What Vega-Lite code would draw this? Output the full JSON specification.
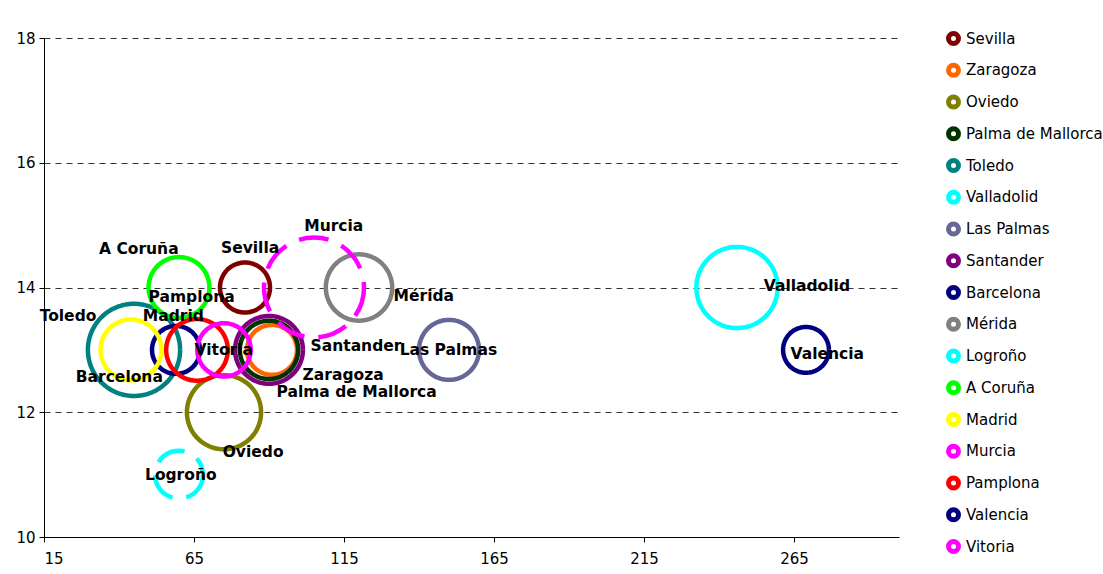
{
  "$schema": "https://vega.github.io/schema/vega-lite/v6.json",
  "width": 855,
  "height": 499,
  "autosize": {"type": "none"},
  "padding": {"left": 44, "top": 38, "right": 204, "bottom": 37},
  "background": "white",
  "config": {"view": {"stroke": null}, "font": "DejaVu Sans"},
  "data": {
    "values": [
      {"city": "Sevilla", "x": 82, "y": 14, "size": 25, "labelX": 83.7, "labelY": 14.64},
      {"city": "Zaragoza", "x": 91, "y": 13, "size": 25, "labelX": 114.7, "labelY": 12.6},
      {"city": "Oviedo", "x": 75, "y": 12, "size": 55, "labelX": 84.7, "labelY": 11.37},
      {"city": "Palma de Mallorca", "x": 90, "y": 13, "size": 34, "labelX": 119.2, "labelY": 12.32},
      {"city": "Toledo", "x": 45, "y": 13, "size": 85, "labelX": 23, "labelY": 13.54},
      {"city": "Valladolid", "x": 246, "y": 14, "size": 66, "labelX": 269.3, "labelY": 14.03},
      {"city": "Las Palmas", "x": 150, "y": 13, "size": 36, "labelX": 149.8, "labelY": 13.0},
      {"city": "Santander", "x": 90, "y": 13, "size": 46, "labelX": 119, "labelY": 13.06},
      {"city": "Barcelona", "x": 59, "y": 13, "size": 23, "labelX": 40.1, "labelY": 12.56},
      {"city": "Mérida", "x": 120, "y": 14, "size": 44, "labelX": 141.6, "labelY": 13.86},
      {"city": "Logroño", "x": 60, "y": 11, "size": 23, "labelX": 60.6, "labelY": 11.0},
      {"city": "A Coruña", "x": 60, "y": 14, "size": 37, "labelX": 46.6, "labelY": 14.62},
      {"city": "Madrid", "x": 44, "y": 13, "size": 37, "labelX": 58.1, "labelY": 13.54},
      {"city": "Murcia", "x": 105, "y": 14, "size": 100, "labelX": 111.6, "labelY": 14.99},
      {"city": "Pamplona", "x": 66, "y": 13, "size": 38, "labelX": 64.2, "labelY": 13.85},
      {"city": "Valencia", "x": 269, "y": 13, "size": 21, "labelX": 276.1, "labelY": 12.93},
      {"city": "Vitoria", "x": 75, "y": 13, "size": 28.5, "labelX": 74.9, "labelY": 13.0}
    ]
  },
  "layer": [
    {
      "mark": {"type": "point", "shape": "circle", "filled": false, "strokeWidth": 4.5, "opacity": 1},
      "encoding": {
        "x": {
          "field": "x", "type": "quantitative",
          "scale": {"domain": [15, 300], "nice": false, "zero": false},
          "axis": {
            "title": null, "values": [15, 65, 115, 165, 215, 265], "grid": false, "format": "d",
            "domainColor": "#000000", "tickColor": "#000000", "tickSize": 5,
            "labelColor": "#000000", "labelFontSize": 15, "labelFont": "DejaVu Sans", "labelPadding": 9
          }
        },
        "y": {
          "field": "y", "type": "quantitative",
          "scale": {"domain": [10, 18], "nice": false, "zero": false},
          "axis": {
            "title": null, "values": [10, 12, 14, 16, 18], "grid": true, "format": "d",
            "gridDash": [6, 5], "gridColor": "#333333", "gridWidth": 1,
            "domainColor": "#000000", "tickColor": "#000000", "tickSize": 5,
            "labelColor": "#000000", "labelFontSize": 15, "labelFont": "DejaVu Sans", "labelPadding": 4
          }
        },
        "size": {
          "field": "size", "type": "quantitative",
          "scale": {"type": "linear", "domain": [0, 100], "range": [0, 10000]},
          "legend": null
        },
        "color": {
          "field": "city", "type": "nominal",
          "scale": {
            "domain": ["Sevilla", "Zaragoza", "Oviedo", "Palma de Mallorca", "Toledo", "Valladolid", "Las Palmas", "Santander", "Barcelona", "Mérida", "Logroño", "A Coruña", "Madrid", "Murcia", "Pamplona", "Valencia", "Vitoria"],
            "range": ["#800000", "#FF6600", "#808000", "#003300", "#008080", "#00FFFF", "#666699", "#800080", "#000080", "#808080", "#00FFFF", "#00FF00", "#FFFF00", "#FF00FF", "#FF0000", "#000080", "#FF00FF"]
          },
          "legend": {
            "title": null, "orient": "none", "legendX": 902, "legendY": -15,
            "symbolType": "circle", "symbolSize": 100, "symbolStrokeWidth": 5,
            "labelFontSize": 15, "labelFont": "DejaVu Sans", "labelColor": "#000000",
            "labelOffset": 5, "rowPadding": 0.75, "clipHeight": 31, "padding": 0, "labelLimit": 300
          }
        },
        "strokeDash": {
          "condition": {"test": "datum.city === 'Murcia' || datum.city === 'Logroño'", "value": [30, 14]},
          "value": [1, 0]
        }
      }
    },
    {
      "mark": {"type": "text", "font": "DejaVu Sans", "fontWeight": "bold", "fontSize": 15.5, "color": "#000000", "align": "center", "baseline": "middle"},
      "encoding": {
        "x": {"field": "labelX", "type": "quantitative"},
        "y": {"field": "labelY", "type": "quantitative"},
        "text": {"field": "city"}
      }
    }
  ]
}
